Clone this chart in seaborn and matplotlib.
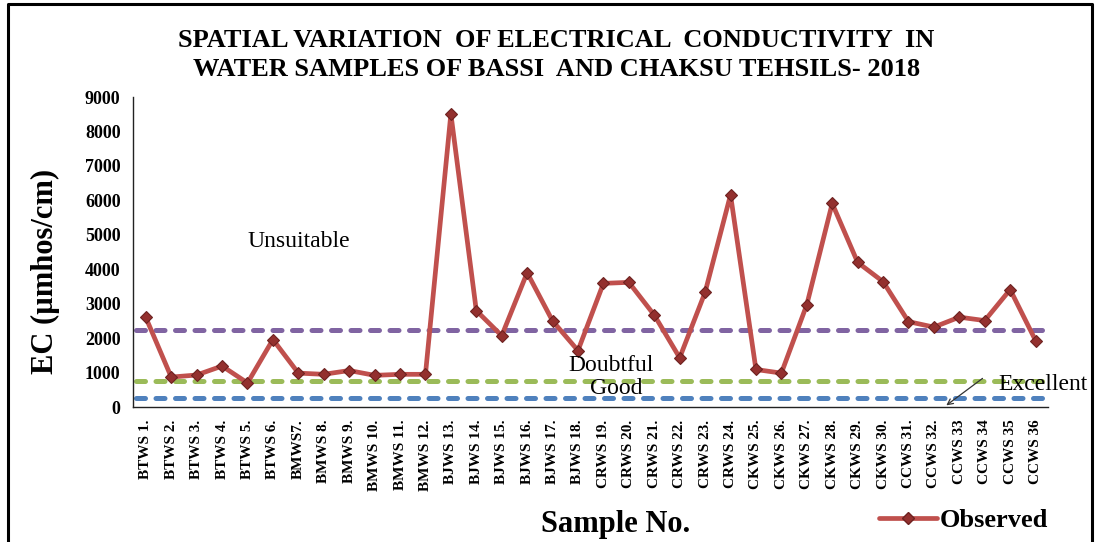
import matplotlib
matplotlib.use("Agg")
import matplotlib.pyplot as plt
import seaborn as sns
import pandas as pd
import numpy as np
from matplotlib.lines import Line2D

# ---- data ----
samples = ["BTWS 1.", "BTWS 2.", "BTWS 3.", "BTWS 4.", "BTWS 5.", "BTWS 6.",
           "BMWS7.", "BMWS 8.", "BMWS 9.", "BMWS 10.", "BMWS 11.", "BMWS 12.",
           "BJWS 13.", "BJWS 14.", "BJWS 15.", "BJWS 16.", "BJWS 17.", "BJWS 18.",
           "CRWS 19.", "CRWS 20.", "CRWS 21.", "CRWS 22.", "CRWS 23.", "CRWS 24.",
           "CKWS 25.", "CKWS 26.", "CKWS 27.", "CKWS 28.", "CKWS 29.", "CKWS 30.",
           "CCWS 31.", "CCWS 32.", "CCWS 33", "CCWS 34", "CCWS 35", "CCWS 36"]
ec_observed = [2600, 870, 930, 1190, 700, 1960,
               985, 950, 1060, 920, 950, 950,
               8510, 2800, 2070, 3900, 2500, 1640,
               3590, 3620, 2670, 1430, 3330, 6160,
               1090, 985, 2970, 5910, 4200, 3640,
               2480, 2320, 2610, 2510, 3410, 1930]
thresholds = [2250, 750, 250]          # Unsuitable/Doubtful, Doubtful/Good, Good/Excellent
threshold_colors = ["#8064A2", "#9BBB59", "#4F81BD"]
y_ticks = list(range(0, 9001, 1000))

title = ("SPATIAL VARIATION  OF ELECTRICAL  CONDUCTIVITY  IN\n"
         "WATER SAMPLES OF BASSI  AND CHAKSU TEHSILS- 2018")

sns.set_style("white")
plt.rcParams["font.family"] = ["Liberation Serif", "DejaVu Serif"]
plt.rcParams["text.color"] = "black"
plt.rcParams["xtick.color"] = "black"
plt.rcParams["ytick.color"] = "black"

fig = plt.figure(figsize=(11, 5.42), dpi=100)
ax = fig.add_axes([0.121, 0.249, 0.832, 0.572])

df = pd.DataFrame({"x": np.arange(len(samples)), "EC": ec_observed})

# threshold lines
for val, col in zip(thresholds, threshold_colors):
    ax.hlines(val, -0.4, len(samples) - 0.7, colors=col, linewidth=3.6,
              linestyles=(0, (1.8, 2.1)), capstyle="round", zorder=1)

sns.lineplot(data=df, x="x", y="EC", ax=ax, color="#C0504D", linewidth=3.4,
             marker="D", markersize=6.5, markerfacecolor="#93302E",
             markeredgecolor="#6E2220", markeredgewidth=0.8, sort=False,
             zorder=3)

ax.set_xlim(-0.5, len(samples) - 0.5)
ax.set_ylim(0, 9000)
ax.set_yticks(y_ticks)
ax.set_yticklabels([str(v) for v in y_ticks], fontsize=13, fontweight="bold")
ax.set_xticks(np.arange(len(samples)))
ax.set_xticklabels(samples, rotation=90, fontsize=11, fontweight="bold")
ax.set_xticks(np.arange(-0.5, len(samples)), minor=True)
ax.tick_params(axis="x", which="major", length=0, pad=9)
ax.tick_params(axis="x", which="minor", length=6, width=1, color="black", direction="out")
ax.tick_params(axis="y", which="major", length=5, width=1, color="black", direction="out", pad=4)

for s in ["top", "right"]:
    ax.spines[s].set_visible(False)
for s in ["left", "bottom"]:
    ax.spines[s].set_color("#222222")
    ax.spines[s].set_linewidth(1.0)

ax.set_xlabel("")
ax.set_ylabel("")

fig.text(0.041, 0.50, "EC (µmhos/cm)", rotation=90, ha="center", va="center",
         fontsize=22, fontweight="bold")
fig.text(0.560, 0.032, "Sample No.", ha="center", va="center",
         fontsize=22, fontweight="bold")
fig.text(0.506, 0.898, title, ha="center", va="center", fontsize=19,
         fontweight="bold", linespacing=1.32)

# zone annotations
ax.text(6.0, 4800, "Unsuitable", ha="center", va="center", fontsize=17)
ax.text(18.3, 1200, "Doubtful", ha="center", va="center", fontsize=17)
ax.text(18.5, 540, "Good", ha="center", va="center", fontsize=17)
ax.text(35.3, 640, "Excellent", ha="center", va="center", fontsize=17, clip_on=False)
ax.annotate("", xy=(31.4, 0), xytext=(33.0, 880),
            arrowprops=dict(arrowstyle="->", color="#333333", lw=0.9))

# legend
handle = Line2D([], [], color="#C0504D", linewidth=3.4, marker="D", markersize=6.5,
                markerfacecolor="#93302E", markeredgecolor="#6E2220")
fig.legend([handle], ["Observed"], loc="center", bbox_to_anchor=(0.876, 0.04),
           frameon=False, prop={"size": 19, "weight": "bold"},
           handlelength=2.2, handletextpad=0.1)

# figure border (left, top, right)
fig.add_artist(Line2D([0.007, 0.007, 0.993, 0.993], [0.0, 0.993, 0.993, 0.0],
                      transform=fig.transFigure, color="black", linewidth=2.2))

fig.savefig("out.png", dpi=100)
